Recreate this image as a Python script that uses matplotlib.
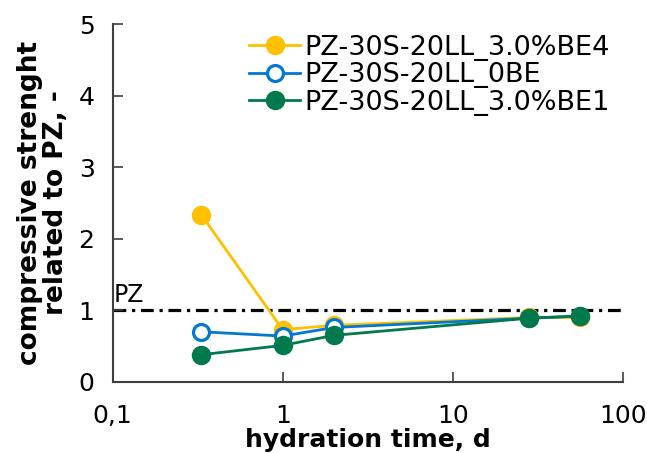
import matplotlib.pyplot as plt
from matplotlib.ticker import FixedLocator, NullLocator

# hydration time in days
days = [0.333, 1, 2, 28, 56]

be4 = [2.33, 0.73, 0.79, 0.90, 0.90]
be0 = [0.70, 0.64, 0.76, 0.89, 0.92]
be1 = [0.38, 0.51, 0.65, 0.89, 0.92]

labels = ['PZ-30S-20LL_3.0%BE4', 'PZ-30S-20LL_0BE', 'PZ-30S-20LL_3.0%BE1']
pz_level = 1.0

x_ticks = [0.1, 1, 10, 100]
x_ticklabels = ['0,1', '1', '10', '100']

fig = plt.figure(figsize=(6.47, 4.53), dpi=100)
ax = fig.add_axes([0.174, 0.157, 0.789, 0.79])

ax.axhline(pz_level, color='black', linestyle=(0, (4, 1.8, 1, 1.8)), linewidth=2.3, zorder=1)
ax.text(0.102, 1.05, 'PZ', fontsize=17, ha='left', va='bottom')

ax.plot(days, be4, color='#FFC000', marker='o', markersize=13, linewidth=2, label=labels[0], zorder=3)
ax.plot(days, be0, color='#0078D4', marker='o', markersize=11.5, markerfacecolor='white',
        markeredgewidth=2.3, linewidth=2, label=labels[1], zorder=4)
ax.plot(days, be1, color='#007A4D', marker='o', markersize=13, linewidth=2, label=labels[2], zorder=5)

ax.set_xscale('log')
ax.set_xlim(0.1, 100)
ax.set_ylim(0, 5)
ax.xaxis.set_major_locator(FixedLocator(x_ticks))
ax.xaxis.set_minor_locator(NullLocator())
ax.set_xticklabels(x_ticklabels)
ax.set_yticks([0, 1, 2, 3, 4, 5])

for s in ['top', 'right']:
    ax.spines[s].set_visible(False)
for s in ['left', 'bottom']:
    ax.spines[s].set_color('#404040')
    ax.spines[s].set_linewidth(1.5)
ax.tick_params(direction='in', length=7, width=1.2, color='#404040', labelsize=18)
ax.tick_params(axis='x', pad=16)
ax.tick_params(axis='y', pad=13)

ax.set_xlabel('hydration time, d', fontsize=18, fontweight='bold', labelpad=0)
ax.set_ylabel('compressive strenght\nrelated to PZ, -', fontsize=19, fontweight='bold',
              labelpad=7, linespacing=1.0)

ax.legend(loc='upper right', bbox_to_anchor=(0.995, 1.0), frameon=False, fontsize=19.5,
          handlelength=1.9, handletextpad=0.15, labelspacing=0.05, borderaxespad=0.0)

fig.savefig('out.png', dpi=100)
